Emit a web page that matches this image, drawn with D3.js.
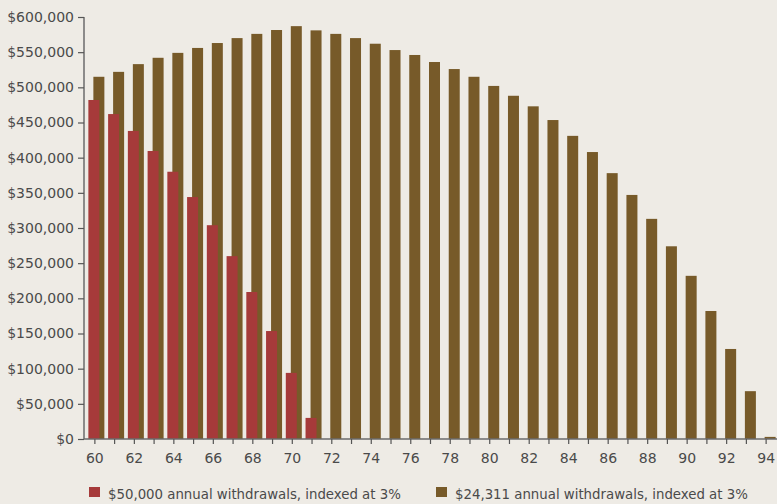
<!DOCTYPE html>
<html>
<head>
<meta charset="utf-8">
<script src="https://cdn.jsdelivr.net/npm/d3@7"></script>
<style>
  body { margin: 0; background: #eeebe5; }
  svg { display: block; }
  text { font-family: "DejaVu Sans", sans-serif; fill: #4a4a4a; }
  .legend text { font-family: "DejaVu Sans Condensed", "DejaVu Sans", sans-serif; font-stretch: condensed; }
</style>
</head>
<body>
<div id="chart"></div>
<script>
var w = 777
var h = 504

// ages on the x axis
var ages = d3.range(60, 95);

// balance with $50,000 withdrawals (runs out after 71)
var balance50k = [482000, 462000, 438000, 409500, 380000, 344000, 304000, 260000, 209000, 153500, 94000, 30000];

// balance with $24,311 withdrawals
var balance24k = [515000, 522000, 533000, 542000, 549000, 556000, 563000, 570000, 576000, 581500, 587000,
                  581000, 576000, 570000, 562000, 553000, 546000, 536000, 526000, 515000, 502000, 488000,
                  473000, 453500, 431000, 408000, 378000, 347000, 313000, 274000, 232000, 182000, 128000,
                  68000, 3000];

var yTicks = d3.range(0, 600001, 50000);
var xLabels = d3.range(60, 95, 2);

var legendText = ["$50,000 annual withdrawals, indexed at 3%", "$24,311 annual withdrawals, indexed at 3%"];
var colors = ["#a63a3a", "#775a29"];

var x = d3.scaleBand()
    .domain(ages)
    .range([85, 776])
    .padding(0);

var y = d3.scaleLinear()
    .domain([0, 600000])
    .range([439, 17]);

var svg = d3.select("#chart").append("svg")
    .attr("width", w)
    .attr("height", h);

var barW = 11;

// brown series sits right of the tick
svg.selectAll("rect.b24").data(balance24k).enter()
  .append("rect")
    .attr("class", "b24")
    .attr("x", function(d, i) { return x(ages[i]) + x.bandwidth() / 2 - 1.5; })
    .attr("width", barW)
    .attr("y", function(d) { return y(d); })
    .attr("height", function(d) { return y(0) - y(d); })
    .attr("fill", colors[1]);

// red series drawn on top, centred on the tick
svg.selectAll("rect.b50").data(balance50k).enter()
  .append("rect")
    .attr("class", "b50")
    .attr("x", function(d, i) { return x(ages[i]) + x.bandwidth() / 2 - 6.5; })
    .attr("width", barW)
    .attr("y", function(d) { return y(d); })
    .attr("height", function(d) { return y(0) - y(d); })
    .attr("fill", colors[0]);

// y axis
var yAxis = svg.append("g")
    .attr("transform", "translate(84,0)")
    .call(d3.axisLeft(y).tickValues(yTicks).tickSize(6).tickPadding(4)
        .tickFormat(function(d) { return "$" + d3.format(",")(d); }));

// x axis
var xAxis = svg.append("g")
    .attr("transform", "translate(0,439)")
    .call(d3.axisBottom(x).tickSize(5).tickPadding(9)
        .tickFormat(function(d) { return xLabels.indexOf(d) >= 0 ? d : ""; }));

svg.selectAll(".domain").attr("stroke", "#6b6b6b").attr("stroke-width", 1.5);
svg.selectAll(".tick line").attr("stroke", "#555").attr("stroke-width", 1.2);
svg.selectAll(".tick text").style("font-size", "14px").attr("fill", "#4a4a4a");
xAxis.select(".domain").attr("d", "M84,0H777");
yAxis.select(".domain").attr("d", "M0,17V439");

// legend
var legendX = [89, 436];
var legend = svg.selectAll("g.legend").data(legendText).enter()
  .append("g")
    .attr("class", "legend")
    .attr("transform", function(d, i) { return "translate(" + legendX[i] + ",487)"; });

legend.append("rect")
    .attr("width", 11)
    .attr("height", 10)
    .attr("fill", function(d, i) { return colors[i]; });

legend.append("text")
    .attr("x", 19)
    .attr("y", 12)
    .style("font-size", "14.8px")
    .text(function(d) { return d; });
</script>
</body>
</html>
